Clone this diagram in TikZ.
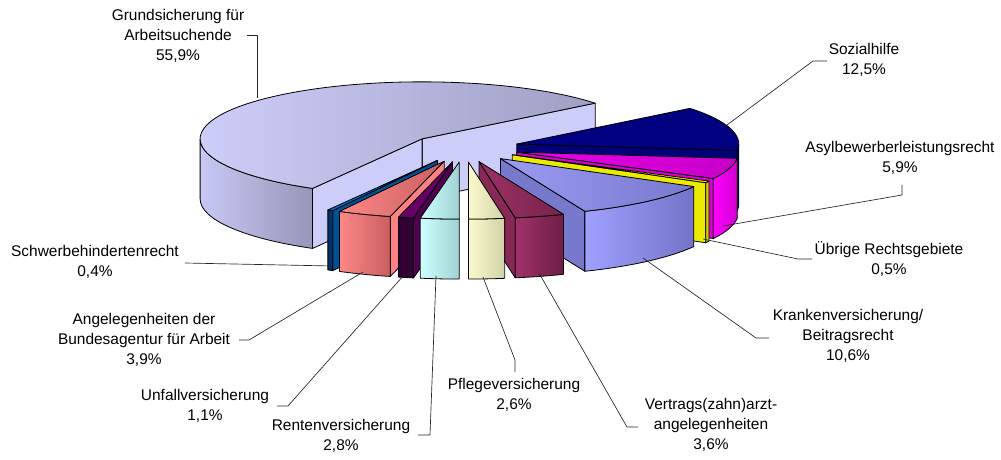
\documentclass[tikz,border=0pt]{standalone}
\usepackage{fontspec}
\setmainfont{Liberation Sans}
\definecolor{bigTL}{RGB}{206,206,250}\definecolor{bigTR}{RGB}{160,160,196}
\definecolor{bigSL}{RGB}{200,200,245}\definecolor{bigSR}{RGB}{150,150,185}
\definecolor{bigC}{RGB}{205,205,250}
\definecolor{sozT}{RGB}{0,0,128}\definecolor{sozS}{RGB}{0,0,112}\definecolor{sozC}{RGB}{0,0,120}
\definecolor{asyTL}{RGB}{235,0,235}\definecolor{asyTR}{RGB}{200,0,200}
\definecolor{asySL}{RGB}{255,0,255}\definecolor{asySR}{RGB}{210,0,210}\definecolor{asyC}{RGB}{215,0,215}
\definecolor{ubrT}{RGB}{255,255,0}\definecolor{ubrS}{RGB}{204,204,0}\definecolor{ubrC}{RGB}{235,235,0}
\definecolor{kraTL}{RGB}{155,155,245}\definecolor{kraTR}{RGB}{120,120,205}
\definecolor{kraSL}{RGB}{160,160,255}\definecolor{kraSR}{RGB}{115,115,200}\definecolor{kraC}{RGB}{120,120,205}
\definecolor{verTL}{RGB}{155,50,100}\definecolor{verTR}{RGB}{120,35,75}
\definecolor{verSL}{RGB}{160,50,105}\definecolor{verSR}{RGB}{110,30,70}\definecolor{verC}{RGB}{135,40,85}
\definecolor{pflL}{RGB}{250,250,205}\definecolor{pflR}{RGB}{210,210,168}
\definecolor{renL}{RGB}{205,255,255}\definecolor{renR}{RGB}{160,210,210}
\definecolor{unfT}{RGB}{102,0,102}\definecolor{unfS}{RGB}{51,0,51}\definecolor{unfC}{RGB}{80,0,80}
\definecolor{angL}{RGB}{255,135,135}\definecolor{angR}{RGB}{200,95,95}\definecolor{angC}{RGB}{250,130,130}
\definecolor{schT}{RGB}{0,110,200}\definecolor{schS}{RGB}{0,51,102}\definecolor{schC}{RGB}{0,80,150}
% a b topL topR sideL sideR cut
\newcommand\pieslice[7]{%
  \pgfmathsetmacro\pma{(#1+#2)/2}%
  \pgfmathsetmacro\pox{\cx+\E*cos(\pma)}%
  \pgfmathsetmacro\poy{\cy+\E*\Ry/\R*sin(\pma)}%
  \pgfmathsetmacro\psa{max(#1,180)}%
  \pgfmathsetmacro\psb{min(#2,360)}%
  \pgfmathtruncatemacro\pvs{\psb>\psa}%
  \pgfmathtruncatemacro\pva{cos(#1)>0.001}%
  \pgfmathtruncatemacro\pvb{cos(#2)<-0.001}%
  \ifnum\pva=1
    \filldraw[edge,fill=#7] (\pox,\poy) -- ({\pox+\R*cos(#1)},{\poy+\Ry*sin(#1)}) -- ++(0,-\H) -- ({\pox},{\poy-\H}) -- cycle;
  \fi
  \ifnum\pvb=1
    \filldraw[edge,fill=#7] (\pox,\poy) -- ({\pox+\R*cos(#2)},{\poy+\Ry*sin(#2)}) -- ++(0,-\H) -- ({\pox},{\poy-\H}) -- cycle;
  \fi
  \ifnum\pvs=1
    \shadedraw[edge,left color=#5,right color=#6] ({\pox+\R*cos(\psa)},{\poy+\Ry*sin(\psa)}) arc[start angle=\psa,end angle=\psb,x radius=\R,y radius=\Ry] -- ++(0,-\H) arc[start angle=\psb,end angle=\psa,x radius=\R,y radius=\Ry] -- cycle;
  \fi
  \shadedraw[edge,left color=#3,right color=#4] (\pox,\poy) -- ({\pox+\R*cos(#1)},{\poy+\Ry*sin(#1)}) arc[start angle=#1,end angle=#2,x radius=\R,y radius=\Ry] -- cycle;
}
\begin{document}
\begin{tikzpicture}[x=0.75pt,y=0.75pt,line join=round,
  edge/.style={draw=black,line width=0.6pt},
  lbl/.style={font=\fontsize{11.6}{15}\selectfont,align=center,anchor=north,inner sep=0pt},
  leader/.style={draw=black!85,line width=0.5pt}]
\useasboundingbox (0,0) rectangle (1001,-460);
\def\cx{464}\def\cy{-148}\def\R{222}\def\Ry{57}\def\H{60}\def\E{55}
% slices, back to front
\pieslice{38.78}{240.42}{bigTL}{bigTR}{bigSL}{bigSR}{bigC}
\pieslice{353.69}{398.78}{sozT}{sozT}{sozS}{sozS}{sozC}
\pieslice{332.40}{353.69}{asyTL}{asyTR}{asySL}{asySR}{asyC}
\pieslice{330.60}{332.40}{ubrT}{ubrT}{ubrS}{ubrS}{ubrC}
\pieslice{292.36}{330.60}{kraTL}{kraTR}{kraSL}{kraSR}{kraC}
\pieslice{240.42}{241.86}{schT}{schT}{schS}{schS}{schC}
\pieslice{241.86}{255.93}{angL}{angR}{angL}{angR}{angC}
\pieslice{279.38}{292.36}{verTL}{verTR}{verSL}{verSR}{verC}
\pieslice{255.93}{259.90}{unfT}{unfT}{unfS}{unfS}{unfC}
\pieslice{259.90}{270.00}{renL}{renR}{renL}{renR}{renL}
\pieslice{270.00}{279.38}{pflL}{pflR}{pflL}{pflR}{pflL}
% labels
\node[lbl] (lGrund) at (178,-9) {Grundsicherung für\\Arbeitsuchende\\55,9\%};
\node[lbl] (lSoz) at (864,-43) {Sozialhilfe\\12,5\%};
\node[lbl] (lAsy) at (900,-141) {Asylbewerberleistungsrecht\\5,9\%};
\node[lbl] (lUbr) at (889,-241) {Übrige Rechtsgebiete\\0,5\%};
\node[lbl] (lKra) at (848,-309) {Krankenversicherung/\\Beitragsrecht\\10,6\%};
\node[lbl] (lVer) at (711,-398) {Vertrags(zahn)arzt-\\angelegenheiten\\3,6\%};
\node[lbl] (lPfl) at (514,-378) {Pflegeversicherung\\2,6\%};
\node[lbl] (lRen) at (341,-419) {Rentenversicherung\\2,8\%};
\node[lbl] (lUnf) at (205,-389) {Unfallversicherung\\1,1\%};
\node[lbl] (lAng) at (144,-313) {Angelegenheiten der\\Bundesagentur für Arbeit\\3,9\%};
\node[lbl] (lSch) at (95,-245) {Schwerbehindertenrecht\\0,4\%};
% leader points
\coordinate (g1) at (247,-35); \coordinate (g2) at (257,-35); \coordinate (g3) at (257,-98);
\coordinate (s1) at (827,-61); \coordinate (s2) at (813,-61); \coordinate (s3) at (727,-125);
\coordinate (a1) at (902,-185); \coordinate (a2) at (902,-195); \coordinate (a3) at (723,-226);
\coordinate (u1) at (812,-259); \coordinate (u2) at (798,-259); \coordinate (u3) at (703,-239);
\coordinate (k1) at (769,-338); \coordinate (k2) at (756,-338); \coordinate (k3) at (643,-258);
\coordinate (v1) at (638,-427); \coordinate (v2) at (627,-427); \coordinate (v3) at (539,-273);
\coordinate (p1) at (515,-372); \coordinate (p2) at (515,-360); \coordinate (p3) at (483,-277);
\coordinate (r1) at (418,-435); \coordinate (r2) at (430,-435); \coordinate (r3) at (436,-276);
\coordinate (f1) at (277,-406); \coordinate (f2) at (288,-406); \coordinate (f3) at (404,-275);
\coordinate (b1) at (239,-340); \coordinate (b2) at (249,-340); \coordinate (b3) at (363,-272);
\coordinate (h1) at (185,-263); \coordinate (h3) at (332,-266);
\draw[leader] (g1) -- (g2) -- (g3);
\draw[leader] (s1) -- (s2) -- (s3);
\draw[leader] (a1) -- (a2) -- (a3);
\draw[leader] (u1) -- (u2) -- (u3);
\draw[leader] (k1) -- (k2) -- (k3);
\draw[leader] (v1) -- (v2) -- (v3);
\draw[leader] (p1) -- (p2) -- (p3);
\draw[leader] (r1) -- (r2) -- (r3);
\draw[leader] (f1) -- (f2) -- (f3);
\draw[leader] (b1) -- (b2) -- (b3);
\draw[leader] (h1) -- (h3);
\end{tikzpicture}
\end{document}
